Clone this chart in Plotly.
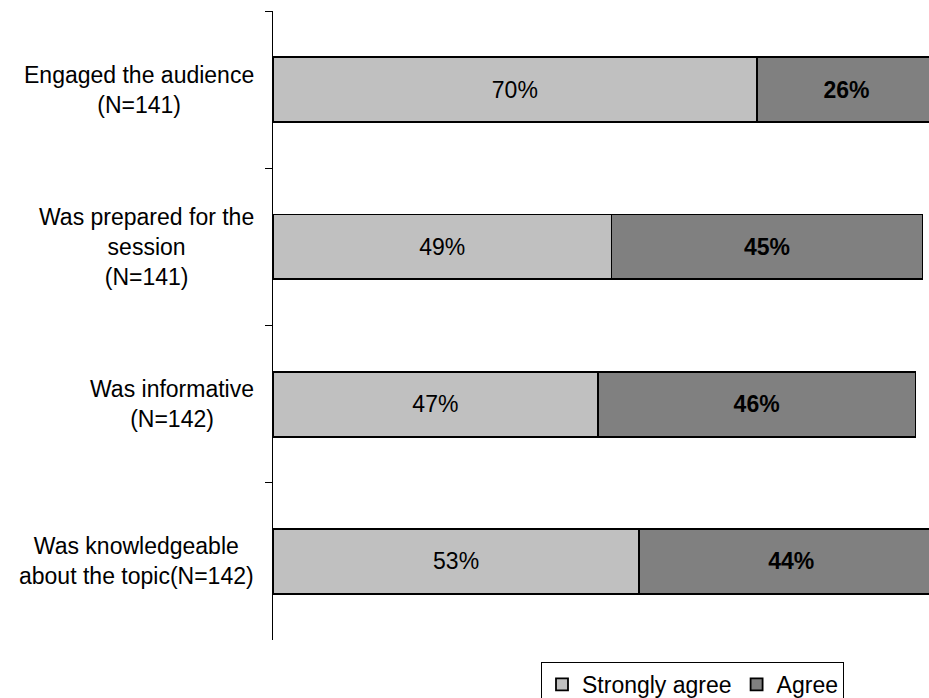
import plotly.graph_objects as go

categories = ["Engaged", "Prepared", "Informative", "Knowledgeable"]
category_labels = [
    "Engaged the audience<br>(N=141)",
    "Was prepared for the<br>session<br>(N=141)",
    "Was informative<br>(N=142)",
    "Was knowledgeable<br>about the topic(N=142)",
]
strongly_agree = [70, 49, 47, 53]
agree = [26, 45, 46, 44]

FONT = "Arial, 'Liberation Sans', sans-serif"
FS = 23

fig = go.Figure()
fig.add_trace(go.Bar(
    y=categories, x=strongly_agree, orientation="h", name="Strongly agree",
    marker=dict(color="#C0C0C0", line=dict(color="black", width=1.8)),
    texttemplate="%{x}%", textposition="inside", insidetextanchor="middle",
    textangle=0, textfont=dict(family=FONT, size=FS, color="black"),
    width=0.413,
))
fig.add_trace(go.Bar(
    y=categories, x=agree, orientation="h", name="Agree",
    marker=dict(color="#808080", line=dict(color="black", width=1.8)),
    texttemplate="<b>%{x}%</b>", textposition="inside", insidetextanchor="middle",
    textangle=0, textfont=dict(family=FONT, size=FS, color="black"),
    width=0.413,
))

for cat, lab in zip(categories, category_labels):
    fig.add_annotation(
        x=0, xref="paper", y=cat, yref="y", text=lab, showarrow=False,
        xanchor="right", yanchor="middle", align="center", xshift=-17,
        font=dict(family=FONT, size=FS, color="black"),
    )

fig.update_layout(
    width=929, height=698,
    margin=dict(l=273, r=0, t=11, b=58, autoexpand=False),
    barmode="stack",
    plot_bgcolor="white", paper_bgcolor="white",
    font=dict(family=FONT, size=FS, color="black"),
    xaxis=dict(range=[0, 94.95], visible=False, showgrid=False, zeroline=False),
    yaxis=dict(
        type="category", categoryorder="array", categoryarray=categories,
        range=[3.5, -0.5], showticklabels=False, tickson="boundaries",
        ticks="outside", ticklen=7, tickcolor="black", tickwidth=1,
        showline=True, linecolor="black", linewidth=1, showgrid=False,
        zeroline=False,
    ),
    showlegend=True,
    legend=dict(
        orientation="h", traceorder="normal",
        x=(541 - 273) / 656, xanchor="left",
        y=-(662 - 640) / 629, yanchor="top",
        bordercolor="black", borderwidth=1, bgcolor="white",
        font=dict(family=FONT, size=FS, color="black"),
        itemwidth=30,
    ),
)

fig.write_html("out.html")
